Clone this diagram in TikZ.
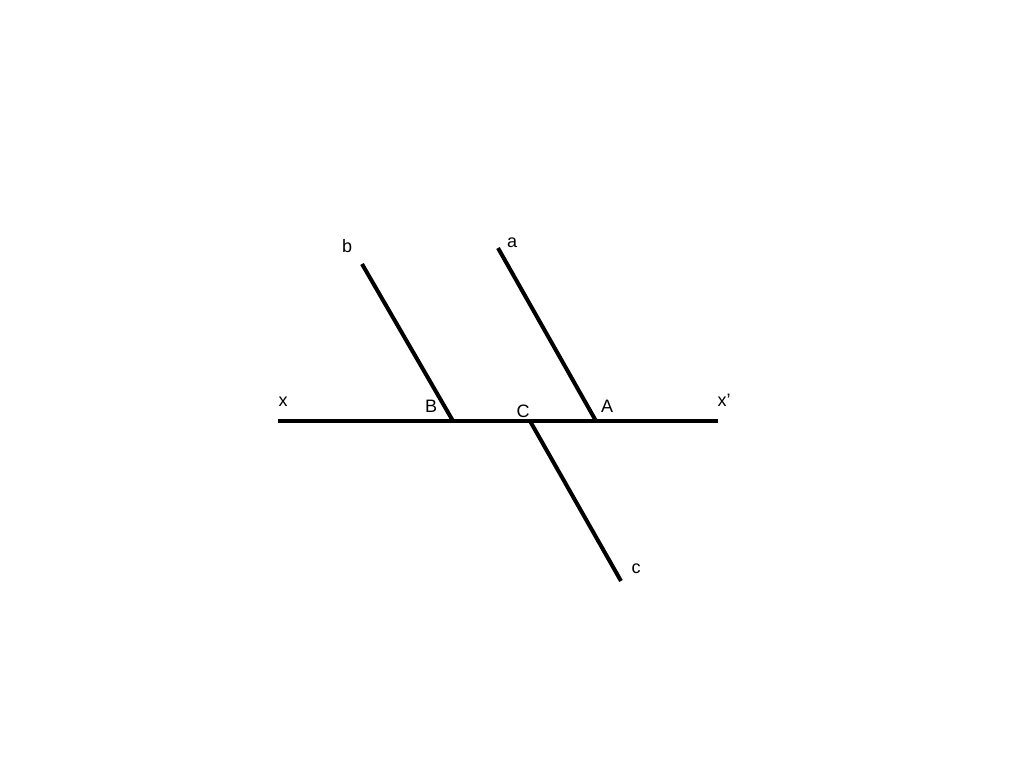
\documentclass[tikz,border=0pt]{standalone}
\usepackage{fontspec}
\setmainfont{Liberation Sans}
\begin{document}
\begin{tikzpicture}[x=1pt,y=-1pt,
  seg/.style={line width=4pt},
  lbl/.style={anchor=base,inner sep=0pt,font=\fontsize{18}{18}\selectfont}]
\useasboundingbox (0,0) rectangle (1024,768);
\coordinate (X1) at (278,421);
\coordinate (X2) at (718,421);
\coordinate (Bt) at (362,264);
\coordinate (B) at (453,421);
\coordinate (At) at (498,248);
\coordinate (A) at (596,421);
\coordinate (C) at (530,421);
\coordinate (Cb) at (621,581);
\draw[seg] (X1) -- (X2);
\draw[seg] (Bt) -- (B);
\draw[seg] (At) -- (A);
\draw[seg] (C) -- (Cb);
\node[lbl] (lx) at (283,406) {x};
\node[lbl] (lx2) at (724,406) {x’};
\node[lbl] (lB) at (431,412) {B};
\node[lbl] (lC) at (523,417) {C};
\node[lbl] (lA) at (607,412) {A};
\node[lbl] (lb) at (347,252) {b};
\node[lbl] (la) at (512,247) {a};
\node[lbl] (lc) at (636,573) {c};
\end{tikzpicture}
\end{document}
